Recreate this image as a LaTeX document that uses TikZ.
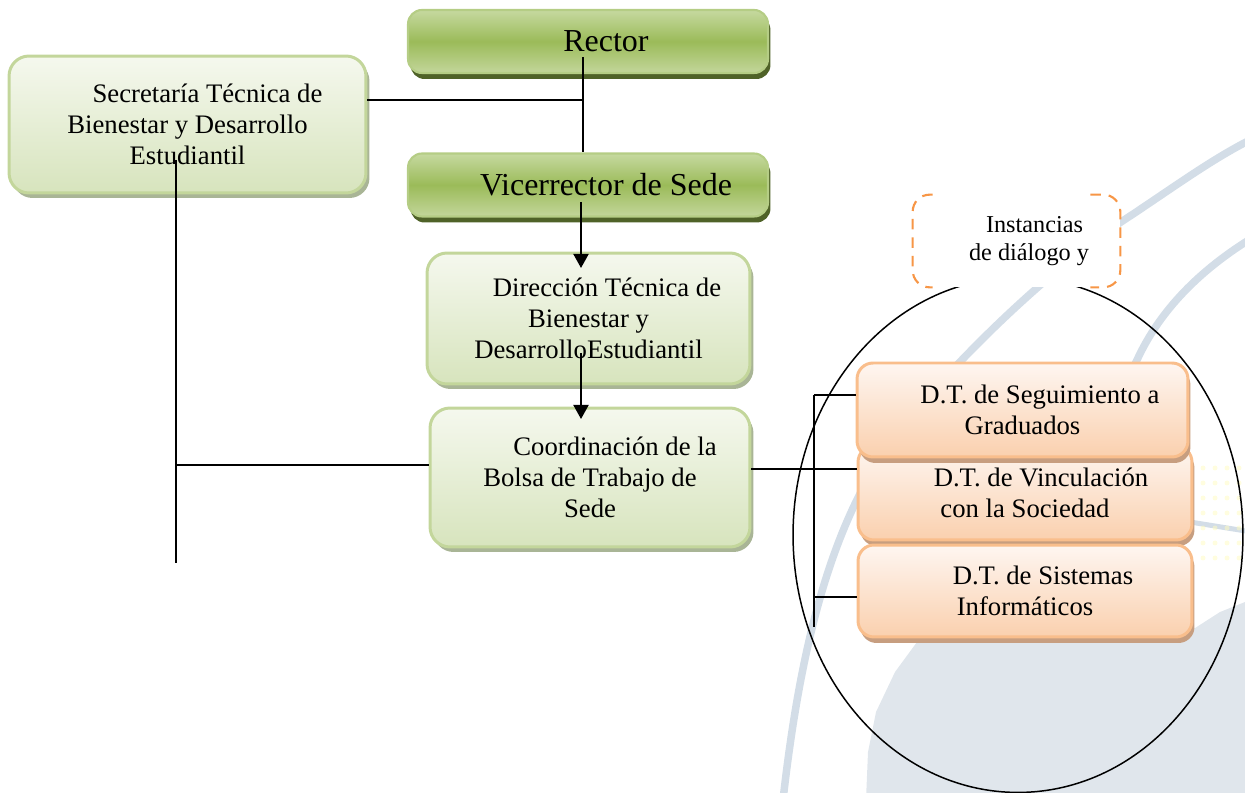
\documentclass[tikz,border=0pt]{standalone}
\usepackage{fontspec}
\setmainfont{Liberation Serif}
\usetikzlibrary{shapes.geometric,shadows,arrows.meta}
\definecolor{lgtop}{HTML}{F5F8EE}
\definecolor{lgbot}{HTML}{D7E4BD}
\definecolor{lgborder}{HTML}{C3D69B}
\definecolor{lgshadow}{HTML}{A9B596}
\definecolor{dgtop}{HTML}{C6D9A0}
\definecolor{dgmid}{HTML}{9BBB59}
\definecolor{dgbot}{HTML}{C3D69B}
\definecolor{dgborder}{HTML}{B5CD85}
\definecolor{dgshadow}{HTML}{4F6228}
\definecolor{ortop}{HTML}{FEF6F1}
\definecolor{orbot}{HTML}{FAD0AE}
\definecolor{orborder}{HTML}{F9BE8C}
\definecolor{orshadow}{HTML}{C79E80}
\definecolor{dashor}{HTML}{F79646}
\definecolor{wmband}{HTML}{D3DDE7}
\definecolor{wmblob}{HTML}{E0E6EC}
\begin{document}
\begin{tikzpicture}[x=0.02cm,y=-0.02cm,
  boxfont/.style={font={\fontsize{15.2pt}{17.8pt}\selectfont}},
  lgbox/.style={rectangle, rounded corners=0.4cm, draw=lgborder, line width=1.7pt,
    top color=lgtop, bottom color=lgbot, inner sep=0pt, align=center, boxfont,
    drop shadow={shadow xshift=0.07cm, shadow yshift=-0.1cm, fill=lgshadow, opacity=1}},
  dgbox/.style={rectangle, rounded corners=0.28cm, draw=dgborder, line width=1.2pt,
    top color=dgtop, bottom color=dgbot, middle color=dgmid, inner sep=0pt, align=center,
    font={\fontsize{18.2pt}{20pt}\selectfont},
    drop shadow={shadow xshift=0.05cm, shadow yshift=-0.12cm, fill=dgshadow, opacity=1}},
  orbox/.style={rectangle, rounded corners=0.32cm, draw=orborder, line width=1.7pt,
    top color=ortop, bottom color=orbot, inner sep=0pt, align=center, boxfont,
    drop shadow={shadow xshift=0.05cm, shadow yshift=-0.12cm, fill=orshadow, opacity=1}},
  conn/.style={line width=1.1pt, black},
  thinconn/.style={line width=0.85pt, black},
  arr/.style={conn, -{Triangle[width=0.3cm,length=0.28cm]}},
  wm/.style={wmband, line width=0.15cm, line cap=round}
]
\useasboundingbox (0,0) rectangle (1245,793);

% watermark
\fill[wmblob] (866,800) -- (868,752) -- (876,712) -- (895,672) -- (917,642)
  -- (1100,636) -- (1192,630) -- (1220,612) -- (1250,600) -- (1250,800) -- cycle;
\draw[wm] (783,800) .. controls (800,650) and (830,520) .. (900,430)
  .. controls (960,355) and (1050,270) .. (1121,222)
  .. controls (1170,190) and (1210,160) .. (1252,139);
\draw[wm] (1252,238) .. controls (1200,270) and (1160,310) .. (1137,360) -- (1105,425);
\draw[wm, line width=0.1cm] (1190,522) -- (1252,532);
\foreach \i in {0,...,3}
  \foreach \j in {0,...,6}
    \fill[yellow!25, opacity=0.5] (1203+\i*12, 468+\j*15) circle (2.5);

% ellipse and instancias
\node[ellipse, draw, line width=0.85pt, minimum width=9cm, minimum height=10.3cm] (ell) at (1018,535) {};
\node[fill=white, minimum width=4.14cm, minimum height=1.84cm, inner sep=0pt, align=center,
  font={\fontsize{13.8pt}{16.3pt}\selectfont}] (inst) at (1016.5,241)
  {\hspace*{0.72cm}Instancias\\\hspace*{0.5cm}de diálogo y};
\draw[dashor, line width=1.2pt, dash pattern=on 6pt off 4.5pt, rounded corners=0.34cm]
  ([xshift=0.4cm]inst.north west) -- (inst.north west) -- (inst.south west) -- ([xshift=0.4cm]inst.south west);
\draw[dashor, line width=1.2pt, dash pattern=on 6pt off 4.5pt, rounded corners=0.34cm]
  ([xshift=-0.6cm]inst.north east) -- (inst.north east) -- (inst.south east) -- ([xshift=-0.6cm]inst.south east);

% boxes
\node[dgbox, minimum width=7.2cm, minimum height=1.26cm] (rector) at (588,41.5) {\hspace*{0.72cm}Rector};
\node[dgbox, minimum width=7.2cm, minimum height=1.26cm] (vice) at (588,185) {\hspace*{0.72cm}Vicerrector de Sede};
\node[lgbox, minimum width=7.14cm, minimum height=2.74cm] (sec) at (187.5,124.5)
  {\hspace*{0.8cm}Secretaría Técnica de\\Bienestar y Desarrollo\\Estudiantil};
\node[lgbox, minimum width=6.46cm, minimum height=2.62cm] (dir) at (588.5,318.5)
  {\hspace*{0.74cm}Dirección Técnica de\\Bienestar y\\DesarrolloEstudiantil};
\node[lgbox, minimum width=6.4cm, minimum height=2.78cm] (coord) at (590,477.5)
  {\hspace*{1.0cm}Coordinación de la\\Bolsa de Trabajo de\\Sede};
\node[orbox, minimum width=6.68cm, minimum height=1.88cm] (vinc) at (1025,493)
  {\hspace*{0.64cm}D.T. de Vinculación\\con la Sociedad};
\node[orbox, minimum width=6.68cm, minimum height=1.84cm] (sist) at (1025,591)
  {\hspace*{0.72cm}D.T. de Sistemas\\Informáticos};
\node[orbox, minimum width=6.62cm, minimum height=1.88cm] (seg) at (1022.5,410)
  {\hspace*{0.7cm}D.T. de Seguimiento a\\Graduados};

% connectors
\coordinate (rv) at (583,57);
\draw[conn] (rv) -- (rv |- vice.north);
\coordinate (jr) at (583,100);
\draw[thinconn] (sec.east |- jr) -- (jr);
\coordinate (va) at (581,202);
\coordinate (vaEnd) at (581,268);
\draw[arr] (va) -- (vaEnd);
\coordinate (da) at (581,353);
\coordinate (daEnd) at (581,419);
\draw[arr] (da) -- (daEnd);
\coordinate (sv) at (176,160);
\coordinate (svEnd) at (176,563);
\draw[conn] (sv) -- (svEnd);
\coordinate (sj) at (176,465);
\draw[conn] (sj) -- (sj -| coord.west);
\coordinate (cj) at (750,469);
\draw[conn] (coord.east |- cj) -- (cj -| vinc.west);
\coordinate (bt) at (814,395);
\coordinate (bb) at (814,627);
\draw[conn] (bt) -- (bb);
\draw[conn] (bt) -- (bt -| seg.west);
\coordinate (bs) at (814,597);
\draw[conn] (bs) -- (bs -| sist.west);
\end{tikzpicture}
\end{document}
